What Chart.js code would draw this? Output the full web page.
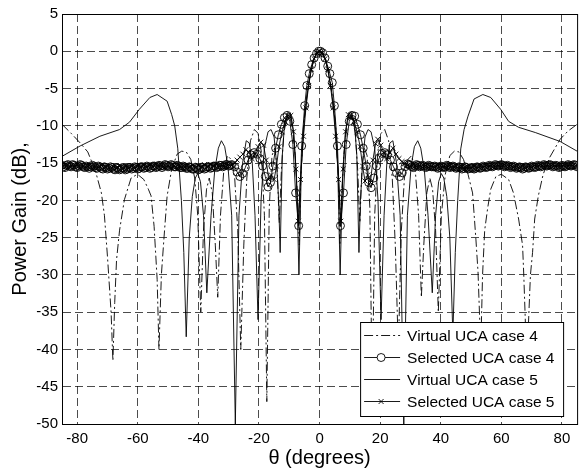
<!DOCTYPE html>
<html><head><meta charset="utf-8">
<script src="https://cdn.jsdelivr.net/npm/chart.js@4.4.0/dist/chart.umd.min.js"></script>
<style>html,body{margin:0;padding:0;background:#fff;}canvas{display:block;}</style>
</head><body>
<canvas id="c" width="582" height="474"></canvas>
<script>
const xTicks = [-80,-60,-40,-20,0,20,40,60,80];
const yTicks = [5,0,-5,-10,-15,-20,-25,-30,-35,-40,-45,-50];
const seriesNames = ['Virtual UCA case 4','Selected UCA case 4','Virtual UCA case 5','Selected UCA case 5'];

const virtual4 = [[-85,-9.8],[-82,-11],[-79,-12.3],[-76.5,-13.5],[-74,-16],[-72,-19],[-71,-22],[-70,-27.5],[-68.8,-35],[-68.2,-41.5],[-67.6,-33.7],[-67,-28],[-66,-24],[-64.4,-19.9],[-62.2,-17],[-60.1,-16.5],[-58,-17.2],[-56.5,-18.5],[-55.6,-19.4],[-54.6,-23.5],[-53.6,-30.6],[-53,-40],[-52.2,-30],[-51.3,-24.8],[-50.3,-19.4],[-48.8,-15.8],[-47,-13.8],[-45.5,-13.4],[-44,-13.5],[-42.5,-14.5],[-41.2,-17],[-40.2,-22],[-39.2,-35],[-38.3,-24],[-37.3,-18.5],[-36.4,-17],[-35.4,-19],[-34.4,-26],[-33.6,-33],[-32.7,-22],[-31.6,-16],[-30.4,-14],[-29.2,-14.5],[-28,-17],[-27,-24],[-26,-40],[-25,-26],[-24,-17],[-22.8,-12],[-21.5,-10.5],[-20.3,-11],[-19.2,-13.5],[-18.2,-22],[-17.4,-47],[-16.6,-21],[-15.7,-14],[-14.8,-13],[-14,-15.5],[-13.3,-23],[-12.6,-16],[-11.8,-11],[-10.8,-8.9],[-9.8,-8.8],[-8.9,-10.5],[-8,-14],[-7.2,-20],[-6.7,-26],[-6.2,-17],[-5.4,-10.5],[-4.5,-6.8],[-3.5,-4],[-2.5,-2],[-1.5,-0.7],[-0.5,-0.1],
[0.5,-0.1],[1.5,-0.7],[2.5,-2],[3.5,-4],[4.5,-6.8],[5.4,-10.5],[6.2,-17],[6.7,-26],[7.2,-20],[8,-14],[8.9,-10.5],[9.8,-8.8],[10.8,-8.9],[11.8,-11],[12.6,-16],[13.3,-23],[14,-15.5],[14.8,-13],[15.7,-14],[16.6,-21],[17.4,-47],[18.2,-22],[19.2,-13.5],[20.3,-11],[21.5,-10.5],[22.8,-12],[24,-17],[25,-26],[26,-40],[27,-24],[28,-17],[29.2,-14.5],[30.4,-14],[31.6,-16],[32.7,-22],[33.6,-33],[34.4,-26],[35.4,-19],[36.4,-17],[37.3,-18.5],[38.3,-24],[39.2,-35],[40.2,-22],[41.5,-16.5],[43,-14],[44.5,-13.4],[46,-13.5],[47.5,-14.5],[49,-16.5],[50.5,-19],[51.6,-25.2],[52.3,-29.6],[53.2,-40],[53.8,-30],[54.5,-24],[55.5,-21],[56.5,-18.5],[58.2,-16.8],[60,-16.5],[62.4,-17.2],[64,-19],[65.7,-22.5],[67,-26],[67.4,-30],[68.4,-42],[69.6,-30],[70.3,-27],[71,-22.5],[72.2,-19.4],[73.8,-16.5],[76,-14.2],[79.4,-11.8],[82,-10.7],[85,-9.8]];

const virtual5 = [[-85,-14.1],[-79,-12.7],[-72.5,-11.4],[-66,-10.5],[-62.7,-9.5],[-59.5,-7.8],[-56,-6.2],[-53.6,-5.8],[-50.3,-6.7],[-48.8,-8.5],[-47.8,-10],[-46.8,-13],[-45.6,-20],[-44.8,-27],[-44,-38.3],[-43,-25],[-42,-19.5],[-41,-17],[-40.2,-16.4],[-39.3,-17.5],[-38.3,-22],[-37.2,-32.4],[-35.8,-22],[-34.6,-16],[-33.4,-13],[-32.4,-12],[-31.3,-12.8],[-30.2,-15.5],[-29,-22],[-27.8,-50],[-26.6,-22],[-25.4,-15],[-24.2,-12],[-23.2,-12.3],[-22.2,-15],[-21.3,-22],[-20.3,-36],[-19.3,-20],[-18.2,-13],[-17,-10.8],[-16,-10.5],[-15,-11.5],[-14.2,-15],[-13.5,-20],[-13,-27],[-12.3,-14],[-11.5,-9.5],[-10.5,-8.2],[-9.5,-8.5],[-8.5,-11],[-7.6,-17],[-6.8,-30],[-6,-15.5],[-5,-9],[-4,-5.5],[-3,-3],[-2,-1.3],[-1,-0.3],[0,0],
[1,-0.3],[2,-1.3],[3,-3],[4,-5.5],[5,-9],[6,-15.5],[6.8,-30],[7.6,-17],[8.5,-11],[9.5,-8.5],[10.5,-8.2],[11.5,-9.5],[12.3,-14],[13,-27],[13.5,-20],[14.2,-15],[15,-11.5],[16,-10.5],[17,-10.8],[18.2,-13],[19.3,-20],[20.3,-36],[21.3,-22],[22.2,-15],[23.2,-12.3],[24.2,-12],[25.4,-15],[26.6,-22],[27.8,-50],[29,-22],[30.2,-15.5],[31.3,-12.8],[32.4,-12],[33.4,-13],[34.6,-16],[35.8,-22],[37.2,-32.4],[38.3,-22],[39.3,-17.5],[40.2,-16.4],[41,-17],[42,-19.5],[43,-25],[44,-38],[44.8,-27],[45.6,-20],[46.6,-13.1],[47.7,-10.5],[49,-8.7],[51,-6.4],[53.9,-5.8],[56.5,-6.2],[59.8,-7.8],[62.4,-9.4],[65.7,-10.2],[71.2,-10.9],[79.4,-12.1],[85,-13.4]];

const selected4 = [[-85,-15.3],[-84.5,-15.5],[-84,-15.6],[-83.5,-15.3],[-83,-15.2],[-82.5,-15.4],[-82,-15.5],[-81.5,-15.2],[-81,-15.3],[-80.5,-15.5],[-80,-15.6],[-79.5,-15.4],[-79,-15.2],[-78.5,-15.3],[-78,-15.5],[-77.5,-15.6],[-77,-15.4],[-76.5,-15.5],[-76,-15.7],[-75.5,-15.5],[-75,-15.3],[-74.5,-15.4],[-74,-15.6],[-73.5,-15.7],[-73,-15.4],[-72.5,-15.5],[-72,-15.7],[-71.5,-15.8],[-71,-15.5],[-70.5,-15.6],[-70,-15.8],[-69.5,-15.7],[-69,-15.5],[-68.5,-15.6],[-68,-15.8],[-67.5,-15.9],[-67,-15.6],[-66.5,-15.7],[-66,-15.9],[-65.5,-15.8],[-65,-15.6],[-64.5,-15.7],[-64,-15.9],[-63.5,-15.8],[-63,-15.6],[-62.5,-15.6],[-62,-15.8],[-61.5,-15.7],[-61,-15.5],[-60.5,-15.6],[-60,-15.8],[-59.5,-15.7],[-59,-15.5],[-58.5,-15.5],[-58,-15.7],[-57.5,-15.6],[-57,-15.4],[-56.5,-15.5],[-56,-15.7],[-55.5,-15.6],[-55,-15.4],[-54.5,-15.4],[-54,-15.6],[-53.5,-15.5],[-53,-15.3],[-52.5,-15.4],[-52,-15.6],[-51.5,-15.4],[-51,-15.2],[-50.5,-15.3],[-50,-15.5],[-49.5,-15.4],[-49,-15.2],[-48.5,-15.3],[-48,-15.5],[-47.5,-15.5],[-47,-15.3],[-46.5,-15.4],[-46,-15.6],[-45.5,-15.6],[-45,-15.4],[-44.5,-15.5],[-44,-15.7],[-43.5,-15.7],[-43,-15.5],[-42.5,-15.6],[-42,-15.8],[-41.5,-15.8],[-41,-15.6],[-40.5,-15.7],[-40,-15.9],[-39.5,-15.8],[-39,-15.6],[-38.5,-15.6],[-38,-15.8],[-37.5,-15.7],[-37,-15.5],[-36.5,-15.5],[-36,-15.7],[-35.5,-15.6],[-35,-15.4],[-34.5,-15.4],[-34,-15.6],[-33.5,-15.5],[-33,-15.3],[-32.5,-15.3],[-32,-15.5],[-31.5,-15.4],[-31,-15.2],[-30.5,-15.2],[-30,-15.4],[-29.5,-15.3],
[-29,-15.2],[-28,-15.5],[-27.2,-16.2],[-26.3,-16.8],[-25.4,-16.4],[-24.5,-15.6],[-23.6,-14.6],[-22.6,-13.9],[-21.6,-13.6],[-20.6,-13.8],[-19.7,-14.4],[-18.8,-15.4],[-17.9,-16.8],[-17,-18.2],[-16.2,-17.6],[-15.4,-15.4],[-14.5,-13],[-13.6,-11.2],[-12.6,-9.8],[-11.6,-8.9],[-10.7,-8.6],[-9.8,-9.4],[-8.8,-12.5],[-7.9,-19],[-6.9,-23.4],[-5.9,-12.7],[-4.9,-7.3],[-4.2,-4.6],[-3.4,-3],[-2.6,-1.8],[-1.8,-0.9],[-1,-0.3],[-0.3,0],
[0.3,0],[1,-0.2],[1.8,-0.9],[2.7,-2],[3.4,-3],[4.2,-4.2],[4.9,-7.3],[5.9,-12.7],[6.9,-23.4],[7.9,-19],[8.8,-12.5],[9.8,-9.4],[10.7,-8.6],[11.6,-8.7],[12.5,-9.8],[13.5,-11.2],[14.4,-13],[15.4,-15.4],[16.2,-17.6],[17,-18.3],[17.9,-17],[18.8,-15.4],[19.7,-14.3],[20.6,-13.7],[21.5,-13.6],[22.4,-13.9],[23.4,-14.6],[24.4,-15.5],[25.4,-16.3],[26.4,-16.8],[27.3,-16.3],[28.2,-15.5],[29,-15.1],
[29.5,-15.2],[30,-15.3],[30.5,-15.5],[31,-15.6],[31.5,-15.4],[32,-15.2],[32.5,-15.3],[33,-15.5],[33.5,-15.4],[34,-15.3],[34.5,-15.4],[35,-15.6],[35.5,-15.5],[36,-15.3],[36.5,-15.4],[37,-15.5],[37.5,-15.5],[38,-15.4],[38.5,-15.5],[39,-15.7],[39.5,-15.6],[40,-15.4],[40.5,-15.5],[41,-15.6],[41.5,-15.5],[42,-15.3],[42.5,-15.4],[43,-15.6],[43.5,-15.5],[44,-15.4],[44.5,-15.5],[45,-15.7],[45.5,-15.6],[46,-15.5],[46.5,-15.6],[47,-15.8],[47.5,-15.7],[48,-15.5],[48.5,-15.6],[49,-15.8],[49.5,-15.7],[50,-15.6],[50.5,-15.7],[51,-15.8],[51.5,-15.7],[52,-15.5],[52.5,-15.6],[53,-15.7],[53.5,-15.6],[54,-15.4],[54.5,-15.5],[55,-15.6],[55.5,-15.5],[56,-15.3],[56.5,-15.4],[57,-15.5],[57.5,-15.4],[58,-15.2],[58.5,-15.3],[59,-15.4],[59.5,-15.3],[60,-15.2],[60.5,-15.3],[61,-15.5],[61.5,-15.4],[62,-15.3],[62.5,-15.4],[63,-15.6],[63.5,-15.5],[64,-15.4],[64.5,-15.5],[65,-15.7],[65.5,-15.6],[66,-15.5],[66.5,-15.6],[67,-15.8],[67.5,-15.7],[68,-15.5],[68.5,-15.6],[69,-15.7],[69.5,-15.6],[70,-15.4],[70.5,-15.5],[71,-15.6],[71.5,-15.5],[72,-15.3],[72.5,-15.4],[73,-15.5],[73.5,-15.4],[74,-15.2],[74.5,-15.3],[75,-15.4],[75.5,-15.3],[76,-15.2],[76.5,-15.3],[77,-15.5],[77.5,-15.4],[78,-15.3],[78.5,-15.4],[79,-15.6],[79.5,-15.5],[80,-15.3],[80.5,-15.4],[81,-15.5],[81.5,-15.4],[82,-15.2],[82.5,-15.3],[83,-15.4],[83.5,-15.3],[84,-15.2],[84.5,-15.3],[85,-15.5]];

const selected5 = [[-85,-15.5],[-84,-15.2],[-83,-15.6],[-82,-15.3],[-81,-15.5],[-80,-15.2],[-79,-15.6],[-78,-15.4],[-77,-15.6],[-76,-15.3],[-75,-15.7],[-74,-15.4],[-73,-15.6],[-72,-15.3],[-71,-15.7],[-70,-15.4],[-69,-15.8],[-68,-15.5],[-67,-15.7],[-66,-15.4],[-65,-15.8],[-64,-15.5],[-63,-15.7],[-62,-15.4],[-61,-15.7],[-60,-15.4],[-59,-15.6],[-58,-15.3],[-57,-15.6],[-56,-15.3],[-55,-15.5],[-54,-15.2],[-53,-15.5],[-52,-15.3],[-51,-15.6],[-50,-15.3],[-49,-15.6],[-48,-15.4],[-47,-15.7],[-46,-15.4],[-45,-15.7],[-44,-15.4],[-43,-15.6],[-42,-15.3],[-41,-15.6],[-40,-15.3],[-39,-15.5],[-38,-15.2],[-37,-15.5],[-36,-15.2],[-35,-15.4],[-34,-15.2],[-33,-15.5],[-32,-15.3],[-31,-15.5],[-30,-15.2],
[-29,-15.3],[-28,-15],[-27.2,-14.6],[-26.3,-14.2],[-25.3,-13.8],[-24.3,-13.2],[-23.3,-13.6],[-22.3,-14.4],[-21.3,-13.8],[-20.3,-12.8],[-19.4,-12.2],[-18.5,-12.6],[-17.6,-14.6],[-16.8,-17.2],[-15.9,-16.6],[-15,-17.2],[-14.2,-15.4],[-13.4,-12.8],[-12.4,-10.8],[-11.4,-9.4],[-10.4,-8.6],[-9.5,-8.6],[-8.6,-10.8],[-7.8,-15.8],[-7,-22.8],[-6.3,-17.2],[-5.3,-11.4],[-4.5,-7.6],[-3.6,-4.6],[-2.7,-2.4],[-1.8,-1],[-0.9,-0.2],[0,0],
[0.9,-0.2],[1.8,-1],[2.7,-2.4],[3.6,-4.6],[4.5,-7.6],[5.3,-11.4],[6.3,-17.2],[7,-22.8],[7.8,-15.8],[8.6,-10.8],[9.5,-8.5],[10.4,-8.6],[11.4,-9.4],[12.4,-10.8],[13.4,-12.8],[14.2,-15.4],[15,-17.4],[15.9,-16.6],[16.8,-17.6],[17.6,-14.6],[18.5,-12.4],[19.2,-11.8],[20.2,-12.6],[21.2,-13.6],[22.2,-14.4],[23.2,-13.6],[24.2,-13],[25.2,-13.8],[26.2,-14.4],[27.2,-14.8],[28,-15.1],[29,-15.3],
[30,-15.5],[31,-15.2],[32,-15.5],[33,-15.3],[34,-15.6],[35,-15.3],[36,-15.6],[37,-15.4],[38,-15.6],[39,-15.3],[40,-15.7],[41,-15.4],[42,-15.6],[43,-15.3],[44,-15.7],[45,-15.4],[46,-15.8],[47,-15.5],[48,-15.8],[49,-15.5],[50,-15.7],[51,-15.4],[52,-15.7],[53,-15.4],[54,-15.6],[55,-15.3],[56,-15.5],[57,-15.2],[58,-15.5],[59,-15.3],[60,-15.5],[61,-15.2],[62,-15.6],[63,-15.3],[64,-15.6],[65,-15.4],[66,-15.7],[67,-15.4],[68,-15.7],[69,-15.4],[70,-15.6],[71,-15.3],[72,-15.5],[73,-15.2],[74,-15.5],[75,-15.3],[76,-15.5],[77,-15.2],[78,-15.5],[79,-15.3],[80,-15.5],[81,-15.2],[82,-15.4],[83,-15.2],[84,-15.5],[85,-15.3]];

const FONT = "'Liberation Sans', Arial, sans-serif";
const toPts = arr => arr.map(p => ({x: p[0], y: p[1]}));

const styles = [
  {dash:[9,3,2,3], radius:0, pstyle:'circle'},
  {dash:[], radius:4, pstyle:'circle'},
  {dash:[], radius:0, pstyle:'circle'},
  {dash:[], radius:3.5, pstyle:'crossRot'}
];
const seriesData = [virtual4, selected4, virtual5, selected5];

const datasets = seriesData.map((d, i) => ({
  label: seriesNames[i],
  data: toPts(d),
  showLine: true,
  borderColor: '#000',
  borderWidth: 0.9,
  borderDash: styles[i].dash,
  pointRadius: styles[i].radius,
  pointStyle: styles[i].pstyle,
  pointBorderColor: '#000',
  pointBackgroundColor: 'rgba(0,0,0,0)',
  pointBorderWidth: 0.9,
  order: 4 - i,
  tension: 0
}));

const framePlugin = {
  id: 'frame',
  afterDatasetsDraw(chart) {
    const ctx = chart.ctx, ca = chart.chartArea;
    ctx.save();
    ctx.strokeStyle = '#000';
    ctx.lineWidth = 1;
    ctx.setLineDash([]);
    ctx.strokeRect(ca.left + 0.5, ca.top + 0.5, ca.right - ca.left, ca.bottom - ca.top);
    // legend
    const bw = 203, bh = 94;
    const bx = ca.right - 217, by = ca.bottom - 102;
    ctx.fillStyle = '#fff';
    ctx.fillRect(bx, by, bw, bh);
    ctx.strokeRect(bx + 0.5, by + 0.5, bw, bh);
    ctx.font = '15.5px ' + FONT;
    ctx.textBaseline = 'middle';
    ctx.textAlign = 'left';
    for (let i = 0; i < 4; i++) {
      const y = by + 13.5 + i * 22;
      ctx.beginPath();
      ctx.setLineDash(styles[i].dash);
      ctx.lineWidth = 0.9;
      ctx.strokeStyle = '#000';
      ctx.moveTo(bx + 4, y);
      ctx.lineTo(bx + 40, y);
      ctx.stroke();
      ctx.setLineDash([]);
      if (styles[i].radius > 0) {
        ctx.fillStyle = '#fff';
        ctx.strokeStyle = '#000';
        Chart.helpers.drawPoint(ctx, {pointStyle: styles[i].pstyle, radius: styles[i].radius, borderWidth: 0.9}, bx + 21, y);
      }
      ctx.fillStyle = '#000';
      ctx.fillText(seriesNames[i], bx + 47, y + 1);
    }
    ctx.restore();
  }
};

new Chart(document.getElementById('c'), {
  type: 'scatter',
  data: {datasets},
  plugins: [framePlugin],
  options: {
    responsive: false,
    animation: false,
    layout: {padding: {left: 0, right: 0, top: 14, bottom: 0}},
    plugins: {legend: {display: false}, tooltip: {enabled: false}},
    scales: {
      x: {
        type: 'linear', min: -85, max: 85,
        afterBuildTicks: s => { s.ticks = xTicks.map(v => ({value: v})); },
        afterFit: s => { s.height = 50; },
        ticks: {color: '#000', font: {family: FONT, size: 15}, padding: 6, maxRotation: 0, autoSkip: false},
        grid: {color: 'rgba(0,0,0,0.7)', lineWidth: 1, drawTicks: false},
        border: {display: true, color: '#000', width: 1, dash: [8, 4]},
        title: {display: true, text: 'θ (degrees)', color: '#000', font: {family: FONT, size: 20}, padding: {top: 0, bottom: 4}}
      },
      y: {
        type: 'linear', min: -50, max: 5,
        afterBuildTicks: s => { s.ticks = yTicks.map(v => ({value: v})); },
        afterFit: s => { s.width = 62; },
        ticks: {color: '#000', font: {family: FONT, size: 15}, padding: 4, autoSkip: false},
        grid: {color: 'rgba(0,0,0,0.7)', lineWidth: 1, drawTicks: false},
        border: {display: true, color: '#000', width: 1, dash: [8, 4]},
        title: {display: true, text: 'Power Gain (dB),', color: '#000', font: {family: FONT, size: 20}, padding: {top: 8, bottom: 0}}
      }
    }
  }
});
</script>
</body></html>
